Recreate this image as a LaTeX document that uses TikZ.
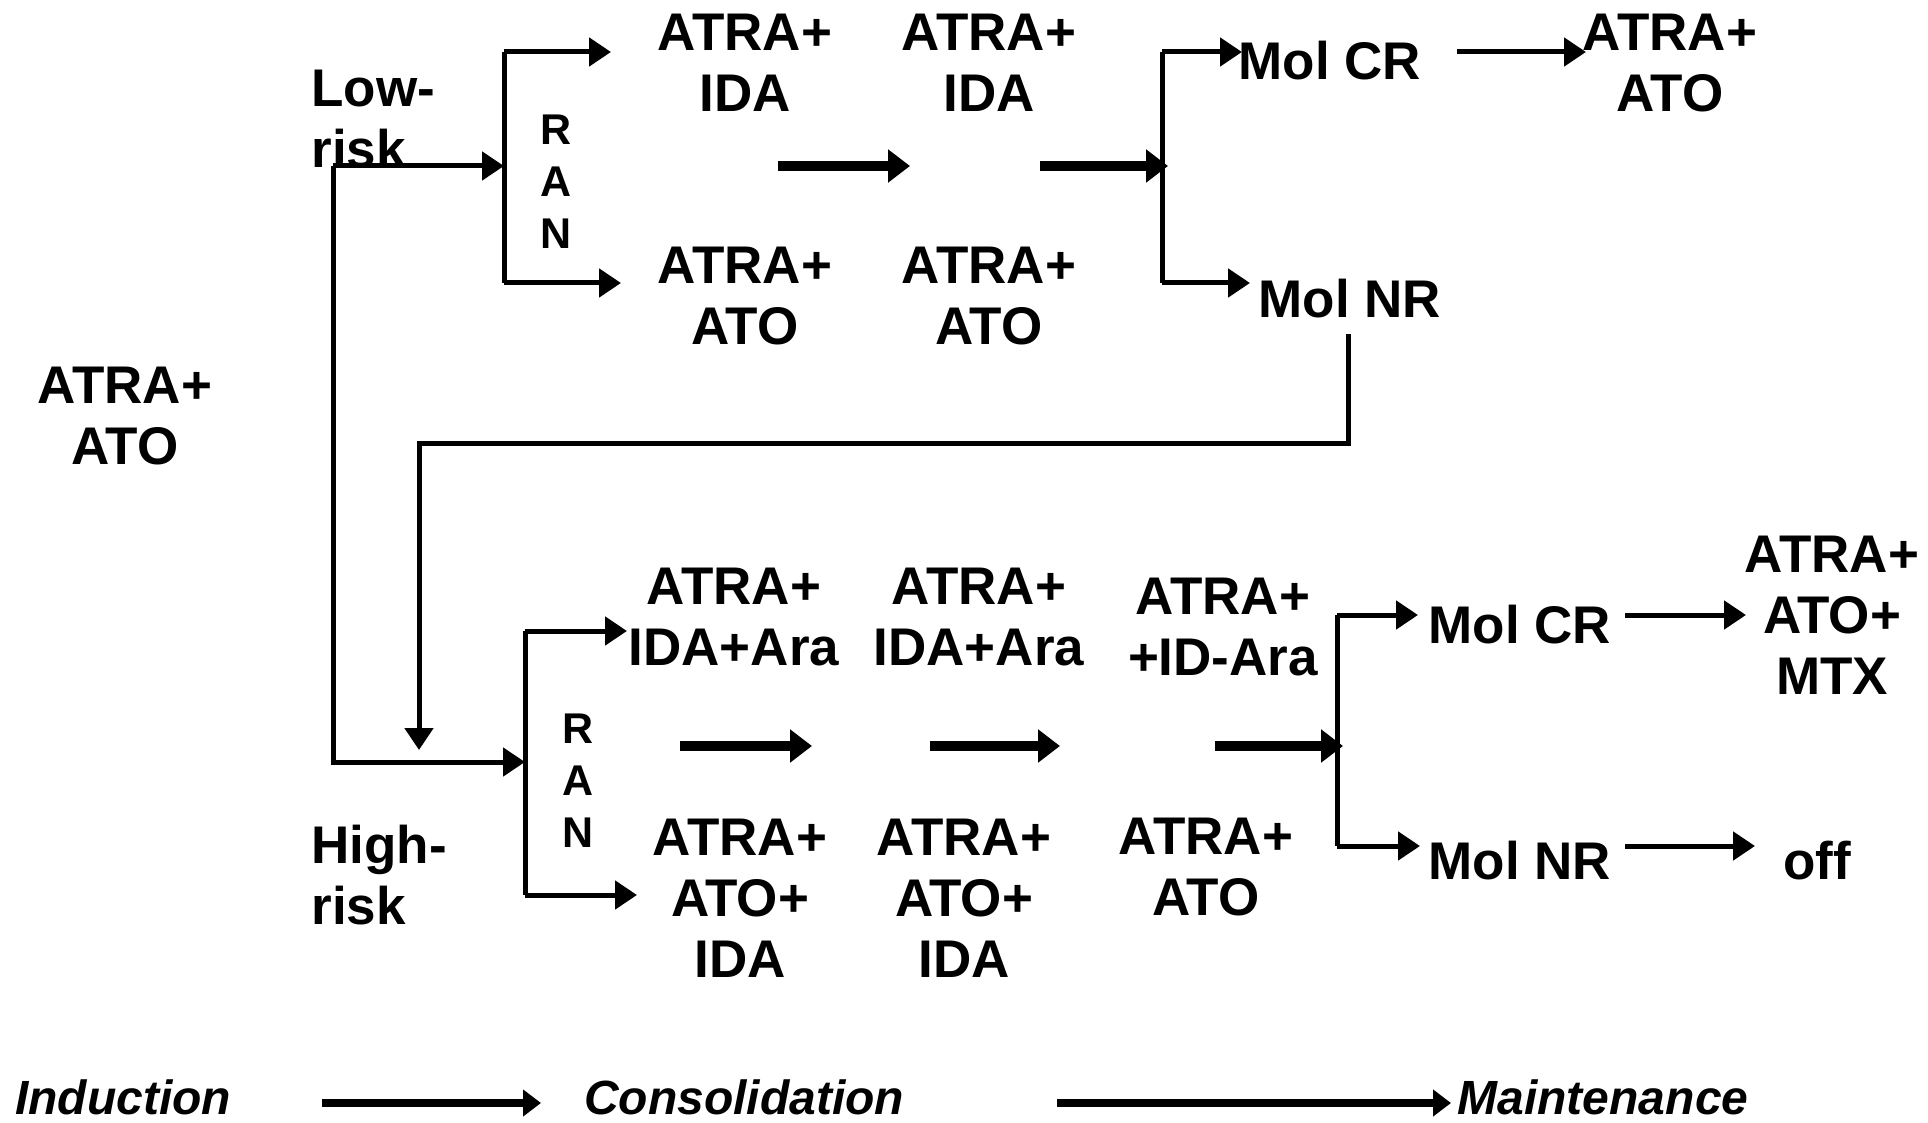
\documentclass[tikz,border=0pt]{standalone}
\usepackage{fontspec}
\setmainfont{Liberation Sans}
\usetikzlibrary{arrows.meta}

\begin{document}
\begin{tikzpicture}[x=0.5pt,y=-0.5pt,
  txt/.style={align=center,inner sep=0pt,font=\bfseries\fontsize{26.5}{30.5}\selectfont},
  ranbox/.style={align=center,inner sep=0pt,font=\bfseries\fontsize{21.5}{26}\selectfont},
  stage/.style={inner sep=0pt,font=\bfseries\itshape\fontsize{24}{28}\selectfont},
  bar/.style={line width=2.5pt},
  link/.style={bar,-{Triangle[length=11pt,width=14pt]}},
  flow/.style={line width=5pt,-{Triangle[length=11pt,width=16pt]}},
  phase/.style={line width=4pt,-{Triangle[length=9pt,width=13pt]}}]
\useasboundingbox (0,0) rectangle (1928,1123);
% induction and risk groups
\node[txt] (induct) at (125,416) {ATRA+\\ATO};
\node[txt,align=left,anchor=west] (lowrisk) at (311,119) {Low-\\risk};
\node[txt,align=left,anchor=west] (highrisk) at (311,875) {High-\\risk};
% low-risk arm
\node[ranbox] (ranA) at (556,182) {R\\A\\N};
\node[txt] (la1) at (745,63) {ATRA+\\IDA};
\node[txt] (la2) at (989,63) {ATRA+\\IDA};
\node[txt] (lb1) at (745,296) {ATRA+\\ATO};
\node[txt] (lb2) at (989,296) {ATRA+\\ATO};
\node[txt] (lcr) at (1330,61) {Mol CR};
\node[txt] (lnr) at (1350,299) {Mol NR};
\node[txt] (lmaint) at (1670,63) {ATRA+\\ATO};
% high-risk arm
\node[ranbox] (ranB) at (578,781) {R\\A\\N};
\node[txt] (ha1) at (734,617) {ATRA+\\IDA+Ara};
\node[txt] (ha2) at (979,617) {ATRA+\\IDA+Ara};
\node[txt] (ha3) at (1223,627) {ATRA+\\+ID-Ara};
\node[txt] (hb1) at (740,898) {ATRA+\\ATO+\\IDA};
\node[txt] (hb2) at (964,898) {ATRA+\\ATO+\\IDA};
\node[txt] (hb3) at (1206,867) {ATRA+\\ATO};
\node[txt] (hcr) at (1520,625) {Mol CR};
\node[txt] (hnr) at (1520,861) {Mol NR};
\node[txt] (hmaint) at (1832,615) {ATRA+\\ATO+\\MTX};
\node[txt] (hoff) at (1817,861) {off};
% phases
\node[stage] (ind) at (123,1097) {Induction};
\node[stage] (cons) at (744,1097) {Consolidation};
\node[stage] (mnt) at (1603,1097) {Maintenance};

% junctions
\coordinate (fork) at (333,166);
\coordinate (ranAin) at (504,166);
\coordinate (ranAtop) at (504,52);
\coordinate (ranAbot) at (504,283);
\coordinate (ranBin) at (525,762);
\coordinate (ranBtop) at (525,631);
\coordinate (ranBbot) at (525,895);
\coordinate (lmerge) at (1162,166);
\coordinate (hmerge) at (1337,746);
\coordinate (nrdrop) at (1348,334);
\coordinate (nrentry) at (419,750);

\draw[link] (fork) -- (ranAin);
\draw[link] (fork) |- (ranBin);
\draw[bar] (ranAtop) -- (ranAbot);
\draw[link] (ranAtop) -- (611,52);
\draw[link] (ranAbot) -- (621,283);
\draw[flow] (778,166) -- (910,166);
\draw[flow] (1040,166) -- ([xshift=3pt]lmerge);
\draw[bar] (lmerge |- ranAtop) -- (lmerge |- ranAbot);
\draw[link] (lmerge |- ranAtop) -- (1242,52);
\draw[link] (lmerge |- ranAbot) -- (1250,283);
\draw[link] (1457,52) -- (1586,52);
\draw[link] (nrdrop) -- (1348,443) -| (nrentry);

\draw[bar] (ranBtop) -- (ranBbot);
\draw[link] (ranBtop) -- (627,631);
\draw[link] (ranBbot) -- (637,895);
\draw[flow] (680,746) -- (812,746);
\draw[flow] (930,746) -- (1060,746);
\draw[flow] (1215,746) -- ([xshift=3pt]hmerge);
\draw[bar] (1337,615) -- (1337,846);
\draw[link] (1337,615) -- (1418,615);
\draw[link] (1337,846) -- (1420,846);
\draw[link] (1625,615) -- (1746,615);
\draw[link] (1625,846) -- (1755,846);

\draw[phase] (322,1103) -- (541,1103);
\draw[phase] (1057,1103) -- (1451,1103);
\end{tikzpicture}
\end{document}
